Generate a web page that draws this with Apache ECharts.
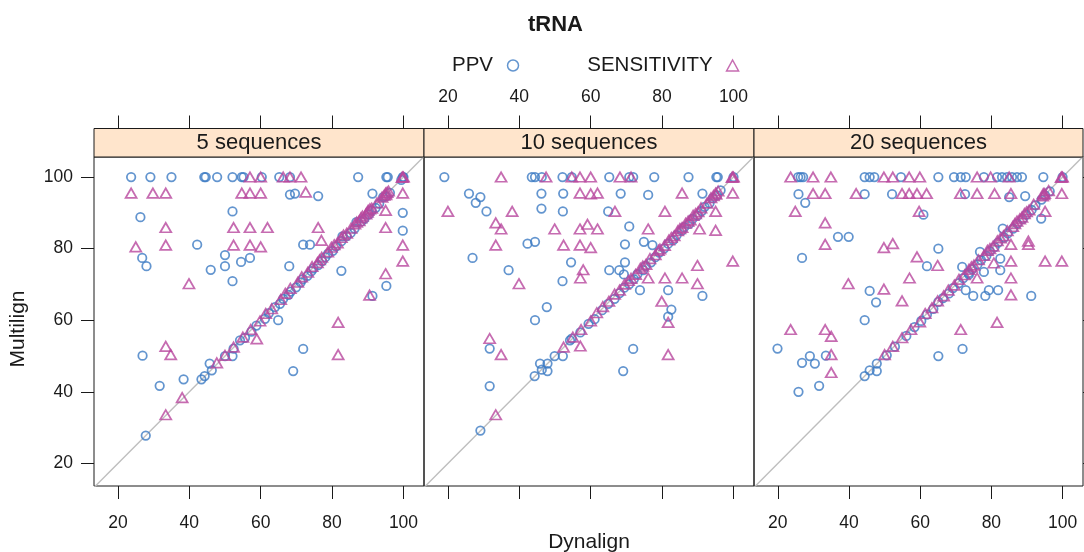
<!DOCTYPE html>
<html><head><meta charset="utf-8">
<script src="https://cdn.jsdelivr.net/npm/echarts@6/dist/echarts.min.js"></script>
<style>html,body{margin:0;padding:0;background:#fff}#c{width:1084px;height:552px}</style>
</head><body><div id="c"></div>
<script>
// ---------- data ----------
const panelNames = ['5 sequences', '10 sequences', '20 sequences'];
const xTicks = [20, 40, 60, 80, 100];
const yTicks = [20, 40, 60, 80, 100];
const refLine = [0, 120];

const ppv5 = [
  [23.7,100],[29.1,100],[35,100],[44.2,100],[44.6,100],[47.8,100],[52.1,100],[54.7,100],[55.2,100],[60.3,100],[65.2,100],[68.2,100],[87.3,100],[95.2,100],[95.6,100],[99.8,100],
  [68.2,95.1],[69.6,95.4],[76.1,94.7],[91.3,95.4],[52.1,90.4],[26.3,88.8],[99.8,90],[99.8,85],
  [42.2,81.1],[71.9,81.1],[73.8,81.1],[26.8,77.4],[28,75.1],[50,78.2],[50,75.1],[54.5,76.3],[57,77.4],[46,74.1],[52.1,70.9],[68,75.1],[82.6,73.8],[95.2,69.6],[91.3,66.8],[64.9,60],
  [71.9,52],[69.1,45.8],[26.9,50.1],[31.7,41.7],[38.4,43.5],[27.8,27.8],
  [43.4,43.5],[44.3,44.4],[46.3,46],[45.7,47.9],[50,50],[52.1,50],[52.4,52.1],[54.2,54.4],[55.6,55.1],[57.4,56.8],[58.8,58.5],[61.2,60.4],[62.3,62],[64,63.7],[65.4,64.6],[66.3,66],[67.8,67.1],[68.4,68],[69.9,69.2],[71.2,70.6],[71.8,71.5],[73.1,72.4],[74.2,73.7],[74.8,74.5],[76.1,75.4],[77.2,76.5],[78.1,77.6],[78.9,78.6],[80.2,79.4],[81.1,80.6],[82.6,82.1],[82.9,83.4],[84.1,83.5],[85.2,84.4],[86.3,85.6],[86.8,87.4],[88.2,87.6],[89.1,88.4],[90.3,89.6],[91.1,90.6],[92.2,91.4],[93.2,92.6],[94.3,94.4],[95.1,94.6],[96.2,95.6],[99.4,99.2],[100,100]
];
const sens5 = [
  [57,100],[60,100],[66.3,100],[68.2,100],[71.3,100],[99.8,100],
  [23.7,95.5],[29.8,95.5],[33.4,95.5],[54.7,95.5],[57,95.5],[60,95.5],[72.6,95.8],[95,95.5],[99.8,95.5],
  [95,90.7],[33.4,85.9],[52.4,85.9],[57,85.9],[61.9,85.9],[76.1,85.9],[95,85.9],
  [25,80.5],[33.4,81],[52.4,81],[57,81],[60,80.5],[99.8,81],[77,82.3],
  [99.8,76.5],[95,73],[39.9,70.2],[90.5,67],[81.7,59.4],
  [33.4,52.7],[34.8,50.4],[38,38.4],[33.4,33.6],[58.9,54.8],[81.7,50.4],
  [47.7,48.1],[50,50.2],[52.4,52.5],[55,55.3],[57.2,57.4],[59.8,59.8],[61.4,61.9],[63.1,63.2],[65.6,65.8],[66.9,67.5],[68.3,68.9],[70.4,70.6],[71.5,72.1],[73.2,73.4],[74.4,75],[75.9,76.1],[77.1,77.6],[78.8,79.1],[79.8,80.4],[81.5,81.6],[82.6,83.1],[84.1,84.3],[85.3,85.7],[86.4,86.9],[87.6,87.8],[88.5,89.1],[89.5,89.7],[90.1,90.7],[91.1,91.3],[92.6,92.8],[94,94.4],[95.1,95.1],[95.8,96.1],[100,100],
  [76.5,76.9],[80.6,81.1],[83.2,83.8],[86.9,87.4],[88.1,88.6],[89.9,90.2],[90.6,91.1],[94.6,94.9],[95.4,95.7],[99.6,99.9]
];
const ppv10 = [
  [19,100],[43.5,100],[44.4,100],[46.3,100],[52.1,100],[54.7,100],[65.2,100],[70.8,100],[71.9,100],[77.8,100],[87.4,100],[95.2,100],[95.6,100],
  [25.9,95.4],[46.2,95.4],[52.3,95.4],[68.4,95.4],[76.1,95],[91.3,95.4],[29.1,94.4],[27.8,92.8],
  [30.8,90.4],[46.2,91.2],[52.2,90.4],[64.9,90.4],[70.8,86.2],
  [42.3,81.4],[44.4,81.9],[69.6,81.2],[74.9,81.9],[77.3,81],
  [26.9,77.4],[54.5,76.2],[69.6,76.2],[37,74],[65.2,74],[68,74],[69.3,72.8],[52.1,70.9],[73.8,68.4],[81.7,68.4],[91.3,66.8],[47.7,63.7],[82.6,63],[81.7,61],[44.4,60],
  [31.7,52.1],[31.7,41.6],[29.1,29.2],[71.9,52],[69.1,45.8],
  [44.3,44.4],[45.8,47.9],[46.3,46.2],[47.9,47.9],[47.9,45.8],[49.9,50],[52.2,50],[54.2,54.4],[54.7,54.9],[57.1,56.6],[59.4,59],[61.1,60.3],[63.2,62.8],[64.9,64.6],[66.7,66],[68.1,67.6],[69.4,69.1],[70.8,70.1],[72.1,71.5],[73.1,72.9],[74.7,74],[75.4,75.2],[76.9,76.2],[78.1,77.6],[79.2,78.9],[80.6,80.1],[81.7,81.4],[83.1,82.4],[84.1,83.8],[85.5,85],[86.2,86],[87.6,86.9],[88.5,88.3],[89.9,89.2],[91.1,90.5],[91.9,91.7],[93.3,92.7],[94.2,94.1],[95.4,94.9],[96.4,96.3],[100,100]
];
const sens10 = [
  [34.9,100],[47.5,100],[54.7,100],[57,100],[60,100],[68.2,100],[71.3,100],[99.8,100],
  [57,95.5],[60,95.3],[61.9,95.5],[85.6,95.5],[99.8,95.5],[95,95.5],
  [20,90.4],[38,90.4],[66.8,90.4],[80.8,90.4],[95,90.4],[33.4,87.2],[59.1,86.8],
  [34.9,85.5],[49.9,85.5],[57,85.5],[61.9,85.5],[76.1,85.5],[90.5,85.5],[95,85.1],
  [33.4,81],[52.4,81],[57,81],[60,80.3],
  [99.8,76.5],[89.9,75.3],[57.9,74.1],[57.1,71.8],[76.1,71.8],[80.8,71.8],[85.6,71.8],[39.9,70.2],[89.9,70.2],[79.9,65.3],[81.7,59.4],
  [31.7,54.9],[34.9,50.4],[33.4,33.6],[57.1,52.8],[81.7,50.4],
  [52.4,52.5],[55,55.3],[57.3,57.4],[60,59.8],[61.7,62.1],[63.4,63.8],[65.1,65.3],[66.7,67.3],[68.1,68.4],[69.5,70.1],[71.3,71.7],[72.6,72.8],[73.9,74.5],[75.5,75.6],[76.6,77.2],[78.1,78.3],[79.4,79.9],[80.7,80.9],[81.9,82.4],[83.4,83.6],[84.4,85],[85.6,85.9],[86.6,87.1],[87.9,88],[88.7,89.3],[90.1,90.3],[90.9,91.4],[92.6,92.7],[93.7,94.2],[95.1,95.2],[95.7,96.1],[100,100],
  [70.6,71.1],[74.6,75.1],[79,79.5],[82.6,83.1],[85,85.6],[87.3,87.7],[89.4,89.8],[94.4,94.8],[99.6,99.9]
];
const ppv20 = [
  [25.7,100],[26.4,100],[27.1,100],[44.4,100],[45.8,100],[47.1,100],[54.6,100],[65.1,100],[69.5,100],[71.4,100],[72.8,100],[77.9,100],[81.6,100],[83,100],[84.4,100],[85.8,100],[87.2,100],[88.6,100],[94.6,100],
  [25.8,95.2],[44.4,95.2],[52.1,95.2],[72.6,95.2],[85,94.4],[89.5,94.7],[27.7,92.8],[60.9,89.5],[94,88.4],[36.9,83.3],[39.9,83.3],[65.1,80],[26.8,77.4],[61.9,75.1],
  [83.2,85.6],[76.8,79.1],[82.5,77.2],[71.8,74.9],[82.5,74],[73.7,72.8],[77.9,73.5],[72.8,68.4],[79.3,68.4],[81.9,68.4],[74.9,66.8],[78.3,66.8],[91.2,66.8],[45.8,68.2],[47.6,65],[44.4,60],
  [19.9,52.1],[29,50],[26.8,48.1],[30.4,47.9],[33.5,50.1],[31.6,41.7],[25.8,40],[65.1,50],[71.9,52],
  [44.4,44.4],[45.8,46],[47.8,47.9],[47.8,45.8],[65.1,65.1],[50.6,50.2],[52.9,52.6],[56.1,55.6],[58.4,58.1],[60.3,59.8],[61.9,61.6],[63.7,63.2],[66.4,66.2],[68.1,67.5],[69.2,69],[70.9,70.4],[72.1,71.8],[73.6,73.2],[74.6,74.3],[76.1,75.6],[77.1,76.8],[78.6,78],[79.6,79.3],[80.9,80.4],[81.9,81.7],[83.6,83.1],[84.6,84.3],[86.1,85.6],[87.3,87],[88.8,88.3],[89.8,89.5],[91.3,90.8],[92.4,92.1],[94.1,93.7],[95.1,94.9],[96.4,96],[100,100]
];
const sens20 = [
  [23.6,100],[29.9,100],[34.9,100],[49.8,100],[52.3,100],[56.9,100],[59.9,100],[76,100],[79.8,100],[85,100],[99.8,100],
  [29.9,95.4],[33.3,95.4],[42,95.4],[54.9,95.4],[56.9,95.4],[59.1,95.4],[61.8,95.4],[71.3,95.4],[76,95.4],[80.9,95.4],[85.5,95.4],[94.6,95.4],[99.8,95.4],
  [24.9,90.4],[59.7,90.4],[95.1,90.4],[33.3,87.2],[33.3,81.2],[52.3,81.4],[49.8,80.3],[85.5,81.2],[90.4,82.1],[90.4,81.2],[59.1,77.7],[95.1,76.5],[99.8,76.5],[85.5,76.5],[80.7,76],[64.9,75.3],
  [57,71.8],[76,71.8],[85.5,71.8],[39.8,70.2],[49.8,68.7],[85.5,67.1],[54.9,65.4],[81.6,59.4],[23.6,57.4],[33.3,57.4],[71.4,57.4],[35,55.5],[35,50.4],[35,45.4],
  [50,50.4],[52.3,52.7],[54.9,55.1],[57.4,57.4],[59.9,59.5],[61.4,61.9],[63.3,63.5],[64.9,65.4],[66.6,66.8],[67.9,68.4],[69.6,69.8],[70.9,71.4],[72.5,72.7],[73.7,74.2],[75.1,75.4],[76.4,76.9],[77.9,78.1],[78.9,79.5],[80.5,80.7],[81.7,82.2],[83.4,83.6],[84.5,85],[86,86.2],[87.2,87.7],[88.6,88.8],[89.3,89.8],[90.6,90.8],[91.9,92.4],[94.4,94.7],[95,95.4],[96.1,96.2],[100,100],
  [74.4,74.9],[79.6,80],[82.6,83],[86.6,87],[88,88.3],[89.9,90.3],[94.8,95.1],[99.6,99.9]
];
const ppvData = [ppv5, ppv10, ppv20];
const sensData = [sens5, sens10, sens20];

// ---------- style / layout ----------
const FONT = '"Liberation Sans", Arial, Helvetica, sans-serif';
const BLUE = '#3C7AC3';
const MAGENTA = '#B8479E';
const INK = '#1a1a1a';
const XMIN = 13.3, XMAX = 105.75, YMIN = 13.7, YMAX = 105.6;
const PL = [94, 424, 754], PW = [330, 330, 329], PT = 157, PH = 329, STRIP = 28.5;

const chart = echarts.init(document.getElementById('c'), null, {renderer: 'canvas'});

const grids = [0,1,2].map(i => ({
  left: PL[i], top: PT, width: PW[i], height: PH,
  outerBoundsMode: 'none', containLabel: false,
  show: true, borderColor: INK, borderWidth: 1, backgroundColor: 'rgba(0,0,0,0)'
}));

const tickStyle = {color: INK, width: 1};
const labelBase = {fontSize: 17.5, color: INK, fontFamily: FONT};

const xAxes = [];
[0,1,2].forEach(i => {
  xAxes.push({
    gridIndex: i, type: 'value', position: 'bottom', min: XMIN, max: XMAX,
    axisLine: {show: false}, splitLine: {show: false},
    axisTick: {show: true, inside: false, length: 13, customValues: xTicks, lineStyle: tickStyle},
    axisLabel: Object.assign({show: i !== 1, customValues: xTicks, margin: 28}, labelBase),
    name: i === 1 ? 'Dynalign' : '', nameLocation: 'middle', nameGap: 46,
    nameTextStyle: {fontSize: 21, color: INK, fontFamily: FONT}
  });
});
[0,1,2].forEach(i => {
  xAxes.push({
    gridIndex: i, type: 'value', position: 'top', offset: STRIP, min: XMIN, max: XMAX,
    axisLine: {show: false}, splitLine: {show: false},
    axisTick: {show: true, inside: false, length: 13, customValues: xTicks, lineStyle: tickStyle},
    axisLabel: Object.assign({show: i === 1, customValues: xTicks, margin: 22}, labelBase)
  });
});
const yAxes = [];
[0,1,2].forEach(i => {
  yAxes.push({
    gridIndex: i, type: 'value', position: 'left', min: YMIN, max: YMAX,
    axisLine: {show: false}, splitLine: {show: false},
    axisTick: {show: i === 0, inside: false, length: 13, customValues: yTicks, lineStyle: tickStyle},
    axisLabel: Object.assign({show: i === 0, customValues: yTicks, margin: 21}, labelBase)
  });
});
yAxes.push({
  gridIndex: 2, type: 'value', position: 'right', min: YMIN, max: YMAX,
  axisLine: {show: false}, splitLine: {show: false},
  axisTick: {show: true, inside: false, length: 13, customValues: yTicks, lineStyle: tickStyle},
  axisLabel: {show: false}
});

const series = [];
[0,1,2].forEach(i => {
  series.push({
    type: 'line', name: 'ref', xAxisIndex: i, yAxisIndex: i,
    data: [[refLine[0], refLine[0]], [refLine[1], refLine[1]]],
    symbol: 'none', clip: true, silent: true, z: 1,
    lineStyle: {color: '#BEBEBE', width: 1.4}
  });
  series.push({
    type: 'scatter', name: 'PPV', xAxisIndex: i, yAxisIndex: i, data: ppvData[i],
    symbol: 'circle', symbolSize: 8.5, z: 2, silent: true,
    itemStyle: {color: 'rgba(0,0,0,0)', borderColor: BLUE, borderWidth: 1.75}
  });
  series.push({
    type: 'scatter', name: 'SENSITIVITY', xAxisIndex: i, yAxisIndex: i, data: sensData[i],
    symbol: 'triangle', symbolSize: [11, 9.5], z: 3, silent: true,
    itemStyle: {color: 'rgba(0,0,0,0)', borderColor: MAGENTA, borderWidth: 1.75}
  });
});

const graphics = [];
[0,1,2].forEach(i => {
  graphics.push({
    type: 'rect', shape: {x: PL[i], y: PT - STRIP, width: PW[i], height: STRIP},
    style: {fill: '#FFE5CC', stroke: INK, lineWidth: 1}, z: 10
  });
  graphics.push({
    type: 'text', x: PL[i] + PW[i] / 2, y: PT - STRIP / 2 + 0.5,
    style: {text: panelNames[i], fill: INK, font: '22px ' + FONT, textAlign: 'center', textVerticalAlign: 'middle'},
    z: 11
  });
});
graphics.push({
  type: 'text', x: 18, y: 329, rotation: Math.PI / 2,
  style: {text: 'Multilign', fill: INK, font: '21px ' + FONT, textAlign: 'center', textVerticalAlign: 'middle'}
});

const option = {
  animation: false,
  backgroundColor: '#ffffff',
  title: {
    text: 'tRNA', left: 523, top: 9,
    textStyle: {fontSize: 22, fontWeight: 'bold', color: INK, fontFamily: FONT}
  },
  legend: {
    left: 447, top: 50, align: 'right', orient: 'horizontal',
    itemWidth: 12, itemHeight: 11, itemGap: 68, selectedMode: false,
    textStyle: {fontSize: 20.5, color: INK, fontFamily: FONT, padding: [0, 9, 0, 0]},
    data: [
      {name: 'PPV', icon: 'circle', itemStyle: {color: 'rgba(0,0,0,0)', borderColor: BLUE, borderWidth: 1.5}},
      {name: 'SENSITIVITY', icon: 'triangle', itemStyle: {color: 'rgba(0,0,0,0)', borderColor: MAGENTA, borderWidth: 1.5}}
    ]
  },
  grid: grids,
  xAxis: xAxes,
  yAxis: yAxes,
  series: series,
  graphic: graphics
};
chart.setOption(option);
</script>
</body></html>
